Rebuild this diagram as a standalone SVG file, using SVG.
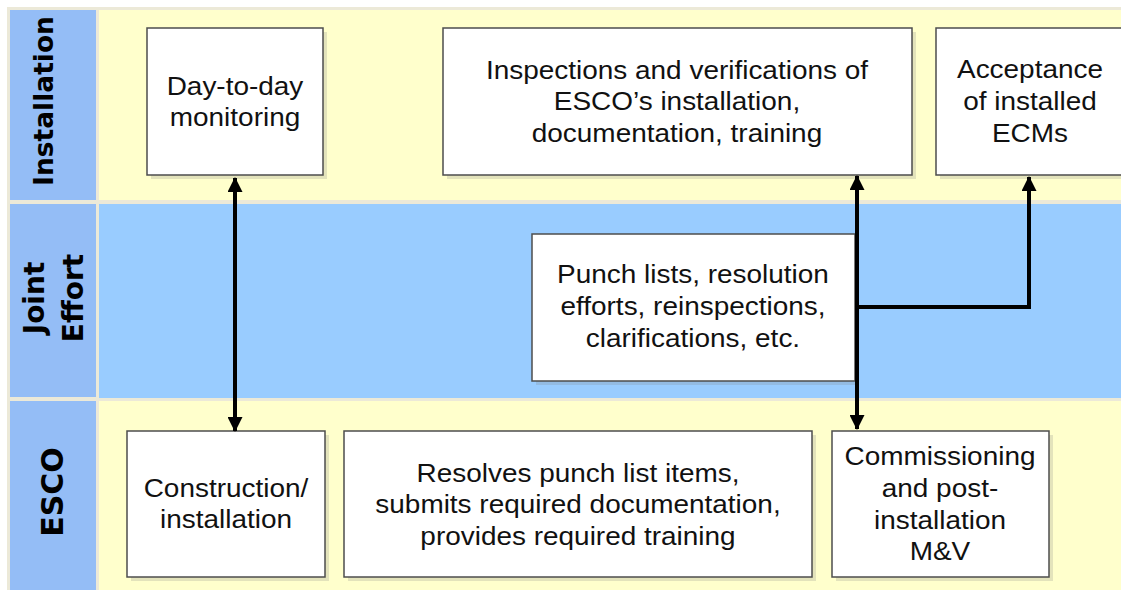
<svg xmlns="http://www.w3.org/2000/svg" width="1121" height="590" viewBox="0 0 1121 590">
  <style>
    .grid { fill: #ECE9D8; }
    .head { fill: #94BDF6; }
    .lane-y { fill: #FFFFCC; }
    .lane-b { fill: #99CCFF; }
    .lane-label { font-family: "DejaVu Sans", Verdana, sans-serif; font-weight: bold; fill: #000; text-anchor: middle; }
    .box { fill: #FFFFFF; stroke: #4D4D4D; stroke-width: 1.5; }
    .shadow { fill: #7F7F7F; fill-opacity: 0.22; }
    .label { font-family: "Liberation Sans", Arial, sans-serif; font-size: 26.5px; fill: #111; text-anchor: middle;
             transform-box: fill-box; transform-origin: center; transform: scaleX(1.055); }
    .conn { fill: none; stroke: #000; stroke-width: 4; }
  </style>
  <defs>
    <marker id="arrow" viewBox="0 0 15 15" refX="14" refY="7.5" markerWidth="15" markerHeight="15" markerUnits="userSpaceOnUse" orient="auto-start-reverse">
      <path d="M0,0 L15,7.5 L0,15 Z" fill="#000"/>
    </marker>
  </defs>

  <!-- page and table grid -->
  <rect x="0" y="0" width="1121" height="590" fill="#FFFFFF"/>
  <rect class="grid" x="7" y="7" width="1114" height="583"/>

  <!-- swimlanes -->
  <g id="lane-installation">
    <rect class="head" x="10" y="10" width="86" height="190"/>
    <rect class="lane-y" x="99" y="10" width="1022" height="190"/>
    <text class="lane-label" font-size="26.5" transform="translate(53 101) rotate(-90)">Installation</text>
  </g>
  <g id="lane-joint">
    <rect class="head" x="10" y="204" width="86" height="193"/>
    <rect class="lane-b" x="99" y="204" width="1022" height="194"/>
    <text class="lane-label" font-size="28" transform="translate(44 298) rotate(-90)">Joint</text>
    <text class="lane-label" font-size="28" transform="translate(83 298) rotate(-90)">Effort</text>
  </g>
  <g id="lane-esco">
    <rect class="head" x="10" y="401" width="86" height="189"/>
    <rect class="lane-y" x="99" y="401" width="1022" height="189"/>
    <text class="lane-label" font-size="30" transform="translate(63 492) rotate(-90)">ESCO</text>
  </g>

  <!-- process boxes -->
  <g id="day-to-day">
    <rect class="shadow" x="151" y="32" width="176" height="147"/>
    <rect class="box" x="147" y="28" width="176" height="147"/>
    <text class="label" x="235" y="95">Day-to-day</text>
    <text class="label" x="235" y="126">monitoring</text>
  </g>
  <g id="inspections">
    <rect class="shadow" x="447" y="32" width="469" height="147"/>
    <rect class="box" x="443" y="28" width="469" height="147"/>
    <text class="label" x="677" y="79">Inspections and verifications of</text>
    <text class="label" x="677" y="110.5">ESCO’s installation,</text>
    <text class="label" x="677" y="142">documentation, training</text>
  </g>
  <g id="acceptance">
    <rect class="shadow" x="940" y="32" width="188" height="147"/>
    <rect class="box" x="936" y="28" width="188" height="147"/>
    <text class="label" x="1030" y="78">Acceptance</text>
    <text class="label" x="1030" y="110">of installed</text>
    <text class="label" x="1030" y="142">ECMs</text>
  </g>
  <g id="punch-lists">
    <rect class="shadow" x="536" y="238" width="323" height="147"/>
    <rect class="box" x="532" y="234" width="323" height="147"/>
    <text class="label" x="693" y="283">Punch lists, resolution</text>
    <text class="label" x="693" y="315">efforts, reinspections,</text>
    <text class="label" x="693" y="347">clarifications, etc.</text>
  </g>
  <g id="construction">
    <rect class="shadow" x="131" y="435" width="198" height="146"/>
    <rect class="box" x="127" y="431" width="198" height="146"/>
    <text class="label" x="226" y="497">Construction/</text>
    <text class="label" x="226" y="528">installation</text>
  </g>
  <g id="resolves">
    <rect class="shadow" x="348" y="435" width="468" height="146"/>
    <rect class="box" x="344" y="431" width="468" height="146"/>
    <text class="label" x="578" y="482">Resolves punch list items,</text>
    <text class="label" x="578" y="513">submits required documentation,</text>
    <text class="label" x="578" y="545">provides required training</text>
  </g>
  <g id="commissioning">
    <rect class="shadow" x="836" y="435" width="217" height="146"/>
    <rect class="box" x="832" y="431" width="217" height="146"/>
    <text class="label" x="940" y="465">Commissioning</text>
    <text class="label" x="940" y="497">and post-</text>
    <text class="label" x="940" y="529">installation</text>
    <text class="label" x="940" y="560">M&amp;V</text>
  </g>

  <!-- connectors -->
  <g id="connectors">
    <line class="conn" x1="235" y1="178" x2="235" y2="431" marker-start="url(#arrow)" marker-end="url(#arrow)"/>
    <line class="conn" x1="857" y1="176" x2="857" y2="429" marker-start="url(#arrow)" marker-end="url(#arrow)"/>
    <polyline class="conn" points="857,307 1029,307 1029,177" marker-end="url(#arrow)"/>
  </g>
</svg>
